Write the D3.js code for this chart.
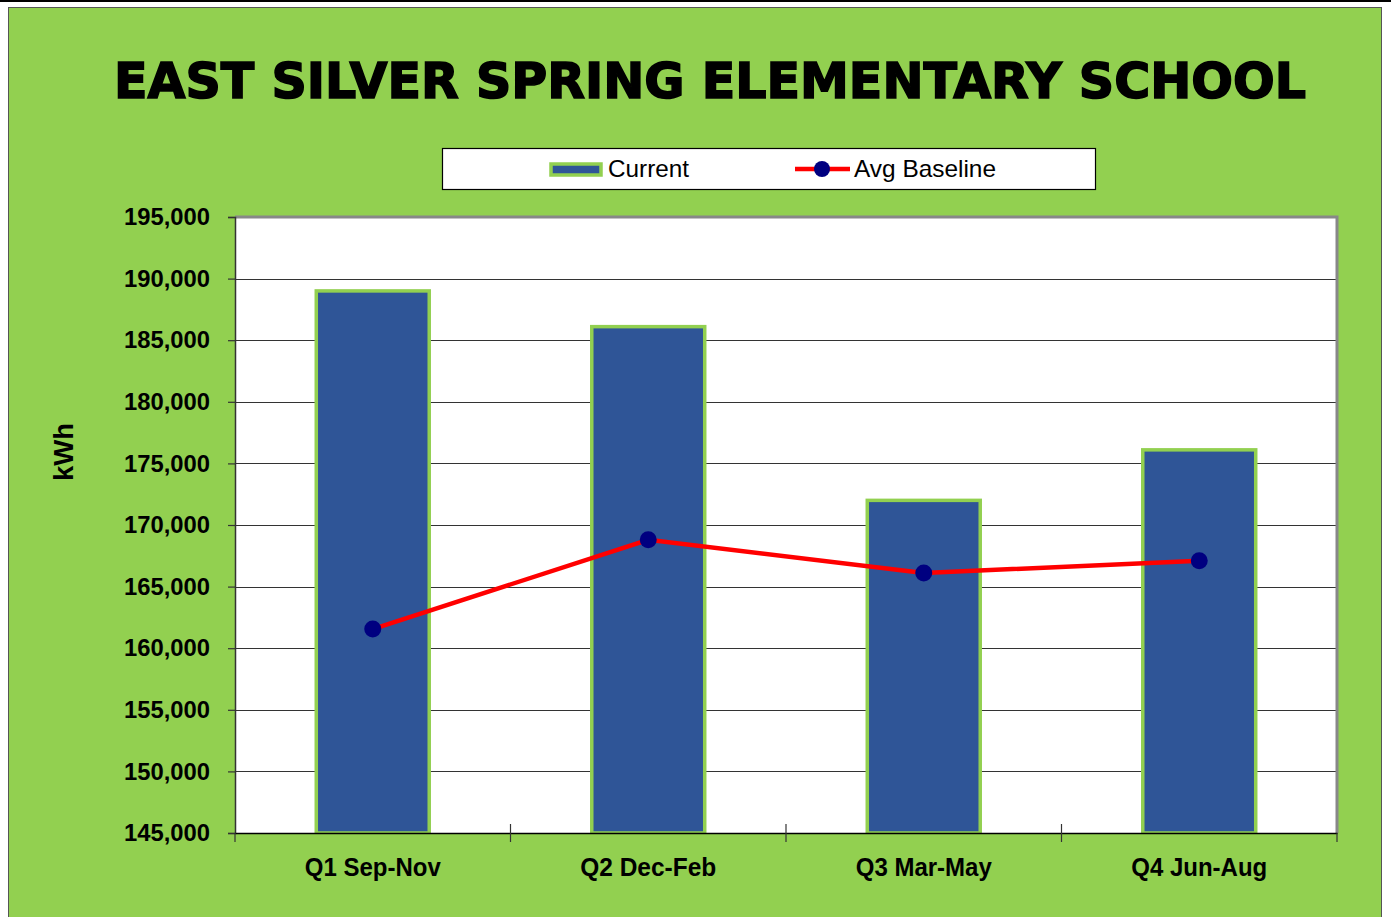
<!DOCTYPE html>
<html>
<head>
<meta charset="utf-8">
<script src="https://cdn.jsdelivr.net/npm/d3@7"></script>
<style>
  html, body { margin: 0; padding: 0; background: #fff; }
  svg { display: block; }
</style>
</head>
<body>
<svg id="chart" width="1391" height="917"></svg>
<script>
const categories = ['Q1 Sep-Nov', 'Q2 Dec-Feb', 'Q3 Mar-May', 'Q4 Jun-Aug'];
const currentValues = [189000, 186100, 172000, 176100];
const baselineValues = [161550, 168800, 166100, 167100];
const yTicks = [145000, 150000, 155000, 160000, 165000, 170000, 175000, 180000, 185000, 190000, 195000];

const green = '#92d050';
const barBlue = '#2f5597';
const narrow = '"Liberation Sans Narrow", "Arial Narrow", "Liberation Sans", Arial, sans-serif';

const svg = d3.select('#chart');

// page frame
svg.append('line').attr('x1', 0).attr('x2', 1391).attr('y1', 1).attr('y2', 1)
    .attr('stroke', '#000').attr('stroke-width', 2);
svg.append('rect').attr('x', 8.5).attr('y', 7.5).attr('width', 1373).attr('height', 915)
    .attr('fill', green).attr('stroke', '#555').attr('stroke-width', 1);

const margin = { left: 235, top: 217, right: 1337, bottom: 833 };

const x = d3.scaleBand().domain(categories).range([margin.left, margin.right]).paddingInner(0.59).paddingOuter(0.295);
const xPoint = d3.scaleBand().domain(categories).range([margin.left, margin.right]);
const y = d3.scaleLinear().domain([145000, 195000]).range([margin.bottom, margin.top]);

// title
svg.append('text')
    .attr('x', 710).attr('y', 98)
    .attr('text-anchor', 'middle')
    .attr('font-family', '"DejaVu Sans", "Liberation Sans", Arial, sans-serif')
    .attr('font-weight', 900)
    .attr('font-size', 50)
    .attr('stroke', '#000').attr('stroke-width', 1.6)
    .attr('textLength', 1192)
    .attr('lengthAdjust', 'spacingAndGlyphs')
    .text('EAST SILVER SPRING ELEMENTARY SCHOOL');

// plot area
svg.append('rect')
    .attr('x', margin.left).attr('y', margin.top)
    .attr('width', margin.right - margin.left).attr('height', margin.bottom - margin.top)
    .attr('fill', '#fff');

// gridlines
svg.append('g').selectAll('line').data(yTicks.slice(1)).join('line')
    .attr('x1', margin.left).attr('x2', margin.right)
    .attr('y1', d => Math.round(y(d)) + 0.5).attr('y2', d => Math.round(y(d)) + 0.5)
    .attr('stroke', '#333').attr('stroke-width', 1.2);

// plot top & right border
svg.append('path')
    .attr('d', `M${margin.left},${margin.top} H${margin.right} V${margin.bottom}`)
    .attr('fill', 'none').attr('stroke', '#888').attr('stroke-width', 3);

// bars
svg.append('g').selectAll('rect').data(currentValues).join('rect')
    .attr('x', (d, i) => x(categories[i]))
    .attr('y', d => y(d))
    .attr('width', x.bandwidth())
    .attr('height', d => margin.bottom - y(d))
    .attr('fill', barBlue)
    .attr('stroke', green)
    .attr('stroke-width', 3.5);

// y axis
const yAxis = svg.append('g').attr('transform', `translate(${margin.left},0)`)
    .call(d3.axisLeft(y).tickValues(yTicks).tickSize(7).tickPadding(18).tickFormat(d3.format(',')));
yAxis.select('.domain').attr('stroke', '#333').attr('stroke-width', 1.5);
yAxis.selectAll('.tick line').attr('stroke', '#333').attr('stroke-width', 1.2);
yAxis.selectAll('.tick text')
    .attr('font-family', narrow).attr('font-weight', 'bold').attr('font-size', 24).attr('fill', '#000')
    .attr('textLength', 86).attr('lengthAdjust', 'spacingAndGlyphs');

// x axis
const xAxis = svg.append('g').attr('transform', `translate(0,${margin.bottom})`)
    .call(d3.axisBottom(xPoint).tickSize(0).tickPadding(25));
xAxis.select('.domain').attr('stroke', '#000').attr('stroke-width', 1.5);
xAxis.selectAll('.tick text')
    .attr('font-family', narrow).attr('font-weight', 'bold').attr('font-size', 26).attr('fill', '#000')
    .attr('textLength', 136).attr('lengthAdjust', 'spacingAndGlyphs');
const boundaries = categories.map(c => xPoint(c)).concat([margin.right]);
svg.append('g').selectAll('line').data(boundaries).join('line')
    .attr('x1', d => d).attr('x2', d => d)
    .attr('y1', (d, i) => (i === 0 || i === boundaries.length - 1) ? margin.bottom : margin.bottom - 9)
    .attr('y2', margin.bottom + 9)
    .attr('stroke', '#333').attr('stroke-width', 1.2);

// baseline line
const line = d3.line()
    .x((d, i) => xPoint(categories[i]) + xPoint.bandwidth() / 2)
    .y(d => y(d));
svg.append('path').datum(baselineValues)
    .attr('d', line).attr('fill', 'none').attr('stroke', '#ff0000').attr('stroke-width', 4.5);
svg.append('g').selectAll('circle').data(baselineValues).join('circle')
    .attr('cx', (d, i) => xPoint(categories[i]) + xPoint.bandwidth() / 2)
    .attr('cy', d => y(d))
    .attr('r', 8.5)
    .attr('fill', '#000080');

// y label
svg.append('text')
    .attr('transform', 'translate(73,452) rotate(-90)')
    .attr('text-anchor', 'middle')
    .attr('font-family', narrow).attr('font-weight', 'bold').attr('font-size', 28)
    .attr('textLength', 58).attr('lengthAdjust', 'spacingAndGlyphs')
    .text('kWh');

// legend
const legend = svg.append('g');
legend.append('rect').attr('x', 442.5).attr('y', 148.5).attr('width', 653).attr('height', 41)
    .attr('fill', '#fff').attr('stroke', '#000').attr('stroke-width', 1.2);
legend.append('rect').attr('x', 551).attr('y', 164).attr('width', 50).attr('height', 11)
    .attr('fill', barBlue).attr('stroke', green).attr('stroke-width', 3.5);
legend.append('text').attr('x', 608).attr('y', 177)
    .attr('font-family', narrow).attr('font-size', 24)
    .attr('textLength', 81).attr('lengthAdjust', 'spacingAndGlyphs').text('Current');
legend.append('line').attr('x1', 795).attr('x2', 850).attr('y1', 169).attr('y2', 169)
    .attr('stroke', '#ff0000').attr('stroke-width', 4.5);
legend.append('circle').attr('cx', 822).attr('cy', 169).attr('r', 8).attr('fill', '#000080');
legend.append('text').attr('x', 854).attr('y', 177)
    .attr('font-family', narrow).attr('font-size', 24)
    .attr('textLength', 142).attr('lengthAdjust', 'spacingAndGlyphs').text('Avg Baseline');
</script>
</body>
</html>
